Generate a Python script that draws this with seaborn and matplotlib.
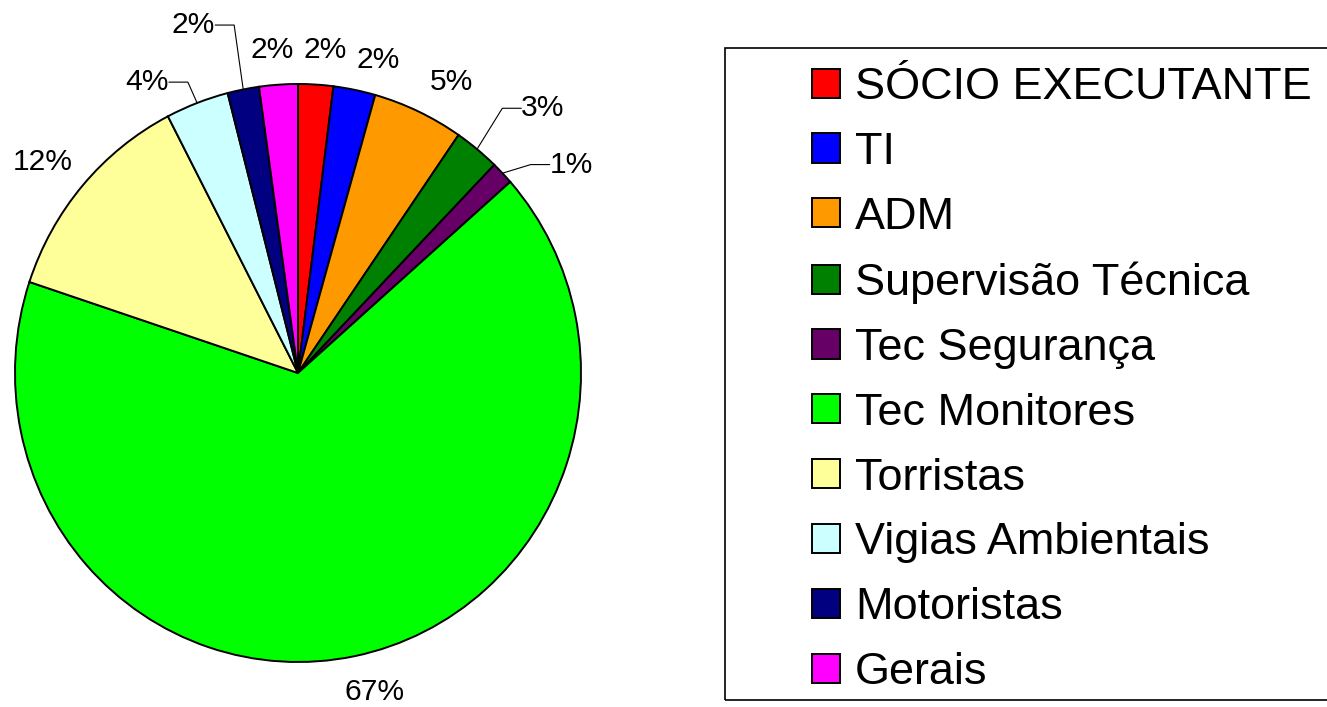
import numpy as np
import matplotlib
matplotlib.use("Agg")
import matplotlib.pyplot as plt
import seaborn as sns
from matplotlib.patches import Rectangle

# data (share of staff per function, %)
categories = ['SÓCIO EXECUTANTE', 'TI', 'ADM', 'Supervisão Técnica', 'Tec Segurança',
              'Tec Monitores', 'Torristas', 'Vigias Ambientais', 'Motoristas', 'Gerais']
shares = [2.0, 2.4, 5.2, 2.6, 1.3, 66.6, 12.3, 3.6, 1.8, 2.2]
colors = ['#FF0000', '#0000FF', '#FF9900', '#008000', '#660066',
          '#00FF00', '#FFFF99', '#CCFFFF', '#000080', '#FF00FF']

sns.set_style("white")
plt.rcParams['font.family'] = ['Liberation Sans', 'DejaVu Sans']
plt.rcParams['text.color'] = 'black'

W, H = 1327, 707
fig = plt.figure(figsize=(W / 100, H / 100), dpi=100)

# pie axes: centre (298, 373) px, radius ~283 px across, ~289 px down
RX, RY = 283.0, 289.0
ax = fig.add_axes([0, 0, 700 / W, 1])

wedges, _ = ax.pie(shares, colors=colors, startangle=90, counterclock=False,
                   radius=1.0, wedgeprops=dict(edgecolor='black', linewidth=1.4))
ax.set_aspect('auto')
ax.set_xlim(-298 / RX, 402 / RX)
ax.set_ylim(-(H - 373) / RY, 373 / RY)
ax.axis('off')

total = sum(shares)
# label placement per slice: radius, angle shift (deg), leader side
label_r = [1.122, 1.119, 1.144, 1.209, 1.145, 1.137, 1.160, 1.105, 1.239, 1.122]
label_dt = [-1.3, -3.1, -3.2, -1.5, -4.7, 2.3, 1.5, 3.5, 2.5, 0.7]
leader = [None, None, None, 'right', 'right', None, None, 'left', 'left', None]

for w, v, r, dt, ld in zip(wedges, shares, label_r, label_dt, leader):
    mid = np.deg2rad((w.theta1 + w.theta2) / 2)
    ang = mid + np.deg2rad(dt)
    x, y = r * np.cos(ang), r * np.sin(ang)
    txt = f"{v / total * 100:.0f}%"
    if ld is None:
        ax.text(x, y, txt, ha='center', va='center', fontsize=21.6)
    else:
        ex, ey = np.cos(mid), np.sin(mid)
        gap = 0.067 if ld == 'left' else -0.067
        ax.plot([ex, x + gap, x], [ey, y, y], color='black', lw=0.8)
        ha = 'right' if ld == 'left' else 'left'
        ax.text(x, y, txt, ha=ha, va='center', fontsize=21.6)

# legend frame
fig.patches.append(Rectangle((725 / W, 1 - 700 / H), 700 / W, (700 - 48) / H,
                             transform=fig.transFigure, fill=False,
                             edgecolor='black', linewidth=1.2))

fig.legend(wedges, categories, loc='upper left', bbox_to_anchor=(812 / W, 1 - 67 / H),
           frameon=False, fontsize=32.4, handlelength=0.62, handleheight=0.62,
           handletextpad=0.33, labelspacing=0.53, borderpad=0, borderaxespad=0)

fig.savefig("out.png", dpi=100)
